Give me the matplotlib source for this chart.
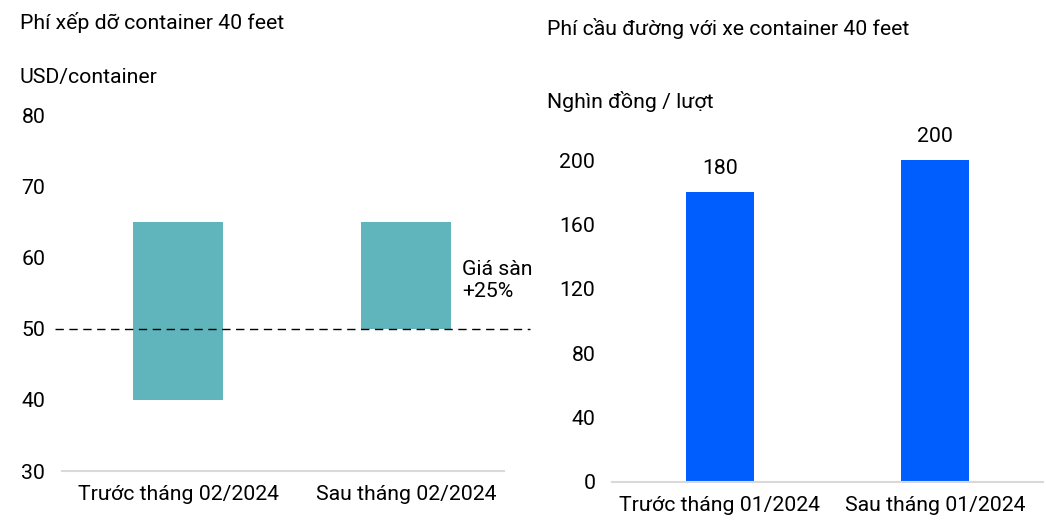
import matplotlib
matplotlib.use("Agg")
import matplotlib.pyplot as plt

plt.rcParams['font.family'] = ['Roboto', 'DejaVu Sans']

# left chart: handling fee range (USD/container)
cats_left = ["Trước tháng 02/2024", "Sau tháng 02/2024"]
low_left = [40, 50]
high_left = [65, 65]
floor_price = 50

# right chart: toll fee (thousand VND / trip)
cats_right = ["Trước tháng 01/2024", "Sau tháng 01/2024"]
vals_right = [180, 200]

teal = "#5fb5bb"
blue = "#005eff"
grid_col = "#d9d9d9"
fs = 15.3

fig = plt.figure(figsize=(10.46, 5.23), dpi=100)

# ---- left panel
ax1 = fig.add_axes([0.0593, 0.0994, 0.4226, 0.6807])
heights = [h - l for h, l in zip(high_left, low_left)]
ax1.bar(range(len(cats_left)), heights, bottom=low_left, width=0.395, color=teal)
ax1.axhline(floor_price, xmin=-0.016, xmax=1.059, color="black", lw=1,
            linestyle=(0, (6, 4)), clip_on=False, zorder=3)
ax1.set_xlim(-0.509, 1.43)
ax1.set_ylim(30, 80)
ax1.set_yticks([30, 40, 50, 60, 70, 80])
ax1.set_xticks(range(len(cats_left)))
ax1.set_xticklabels(cats_left)
ax1.text(1.246, 56.8, "Giá sàn\n+25%", fontsize=fs, va="center", ha="left",
         linespacing=1.2)

# ---- right panel
ax2 = fig.add_axes([0.5851, 0.0784, 0.412, 0.677])
ax2.bar(range(len(cats_right)), vals_right, width=0.316, color=blue)
for i, v in enumerate(vals_right):
    ax2.annotate(str(v), (i, v), xytext=(0, 17), textcoords="offset points",
                 ha="center", va="center", fontsize=fs)
ax2.set_xlim(-0.5, 1.5)
ax2.set_ylim(0, 220)
ax2.set_yticks([0, 40, 80, 120, 160, 200])
ax2.set_xticks(range(len(cats_right)))
ax2.set_xticklabels(cats_right)

for ax in (ax1, ax2):
    for s in ["top", "right", "left"]:
        ax.spines[s].set_visible(False)
    ax.spines["bottom"].set_color(grid_col)
    ax.spines["bottom"].set_linewidth(1.5)
    ax.tick_params(axis="both", length=0, labelsize=fs)
    ax.tick_params(axis="y", pad=12)
    ax.tick_params(axis="x", pad=10)

fig.text(0.019, 0.957, "Phí xếp dỡ container 40 feet", fontsize=fs, va="center")
fig.text(0.019, 0.851, "USD/container", fontsize=fs, va="center")
fig.text(0.523, 0.946, "Phí cầu đường với xe container 40 feet", fontsize=fs, va="center")
fig.text(0.523, 0.805, "Nghìn đồng / lượt", fontsize=fs, va="center")

fig.savefig("out.png", dpi=100)
